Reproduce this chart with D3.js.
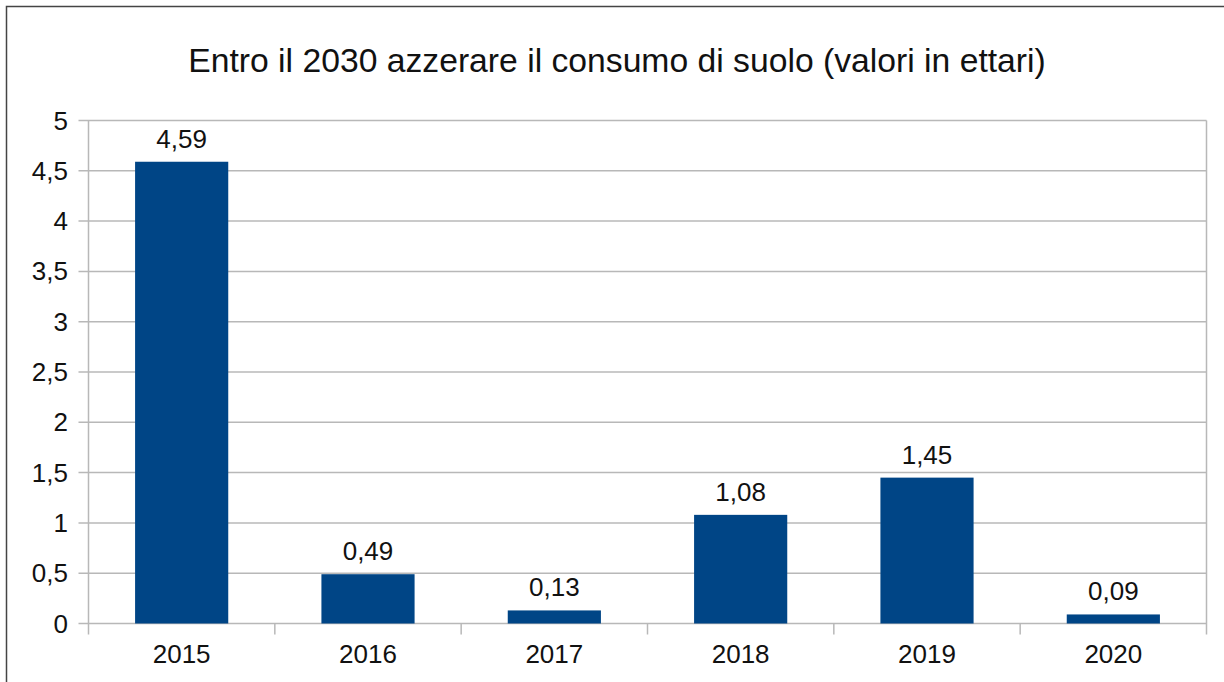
<!DOCTYPE html>
<html>
<head>
<meta charset="utf-8">
<script src="https://cdn.jsdelivr.net/npm/d3@7"></script>
<style>
  body { margin: 0; background: #fff; }
  text { font-family: "Liberation Sans", Arial, sans-serif; fill: #111; }
</style>
</head>
<body>
<div id="chart"></div>
<script>
const years = ["2015", "2016", "2017", "2018", "2019", "2020"];
const values = [4.59, 0.49, 0.13, 1.08, 1.45, 0.09];
const yTicks = [0, 0.5, 1, 1.5, 2, 2.5, 3, 3.5, 4, 4.5, 5];
const title = "Entro il 2030 azzerare il consumo di suolo (valori in ettari)";

const width = 1224, height = 682;
const plotLeft = 88.5, plotRight = 1206.5, plotTop = 120.5, plotBottom = 623.5;

const fmt = v => String(v).replace(".", ",");

const svg = d3.select("#chart").append("svg")
    .attr("width", width)
    .attr("height", height);

// outer frame (only top and left visible in the reference)
svg.append("path")
    .attr("d", "M6.5," + height + "V6.5H" + width)
    .attr("fill", "none")
    .attr("stroke", "#444")
    .attr("stroke-width", 1.5);

svg.append("text")
    .attr("x", 617)
    .attr("y", 72)
    .attr("text-anchor", "middle")
    .attr("font-size", 33.7)
    .text(title);

const x = d3.scaleBand()
    .domain(years)
    .range([plotLeft, plotRight])
    .paddingInner(0.5)
    .paddingOuter(0.25);

const y = d3.scaleLinear()
    .domain([0, 5])
    .range([plotBottom, plotTop]);

// horizontal gridlines with small ticks on the left
svg.append("g")
    .selectAll("line")
    .data(yTicks)
    .enter()
    .append("line")
    .attr("x1", plotLeft - 10)
    .attr("x2", plotRight)
    .attr("y1", d => y(d))
    .attr("y2", d => y(d))
    .attr("stroke", "#b8b8b8")
    .attr("stroke-width", 1.5);

svg.append("g")
    .selectAll("text")
    .data(yTicks)
    .enter()
    .append("text")
    .attr("x", 68)
    .attr("y", d => y(d) + 9)
    .attr("text-anchor", "end")
    .attr("font-size", 26)
    .text(fmt);

// vertical axis line, right border, category boundary ticks
const step = x.step();
const bounds = d3.range(years.length + 1).map(i => plotLeft + i * step);
svg.append("g")
    .selectAll("line")
    .data(bounds)
    .enter()
    .append("line")
    .attr("x1", d => d)
    .attr("x2", d => d)
    .attr("y1", (d, i) => (i === 0 || i === years.length) ? plotTop : plotBottom)
    .attr("y2", plotBottom + 11)
    .attr("stroke", "#b8b8b8")
    .attr("stroke-width", 1.5);

svg.append("g")
    .selectAll("rect")
    .data(values)
    .enter()
    .append("rect")
    .attr("x", (d, i) => x(years[i]))
    .attr("y", d => y(d))
    .attr("width", x.bandwidth())
    .attr("height", d => y(0) - y(d))
    .attr("fill", "#004586");

svg.append("g")
    .selectAll("text")
    .data(values)
    .enter()
    .append("text")
    .attr("x", (d, i) => x(years[i]) + x.bandwidth() / 2)
    .attr("y", d => y(d) - 14)
    .attr("text-anchor", "middle")
    .attr("font-size", 26)
    .text(fmt);

svg.append("g")
    .selectAll("text")
    .data(years)
    .enter()
    .append("text")
    .attr("x", d => x(d) + x.bandwidth() / 2)
    .attr("y", 663)
    .attr("text-anchor", "middle")
    .attr("font-size", 26)
    .text(d => d);
</script>
</body>
</html>
